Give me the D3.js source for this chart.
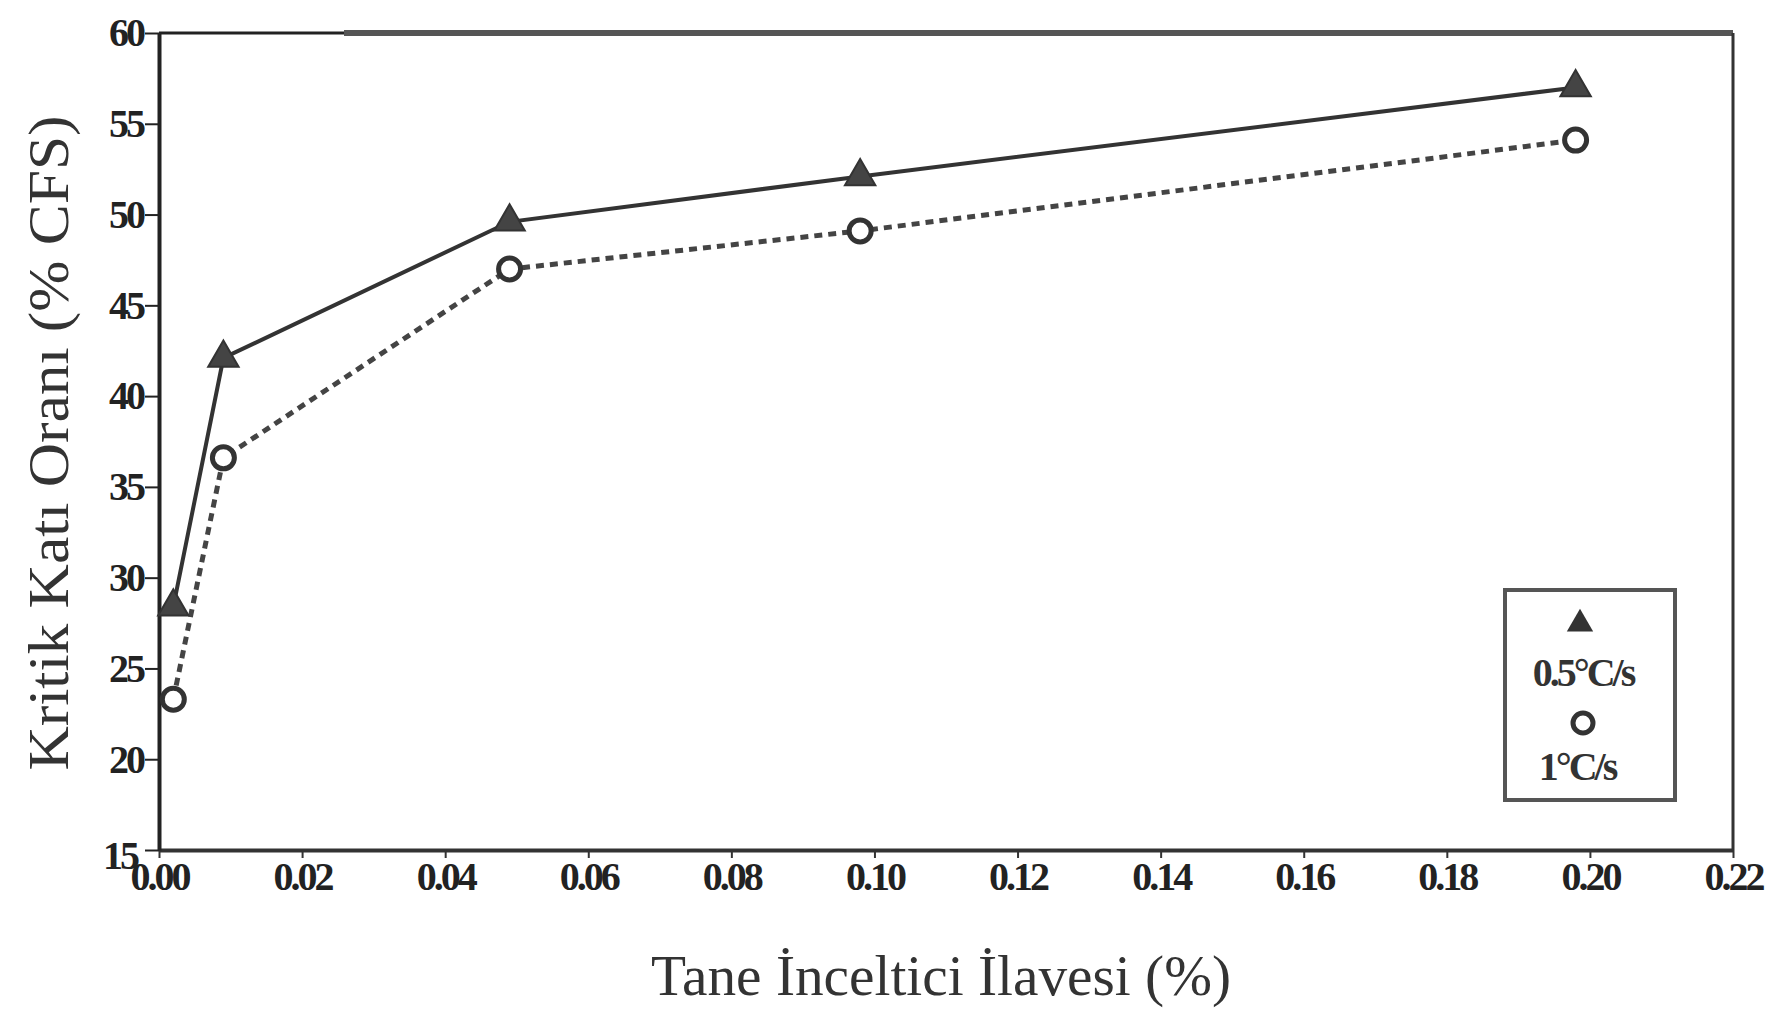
<!DOCTYPE html>
<html>
<head>
<meta charset="utf-8">
<script src="https://cdn.jsdelivr.net/npm/d3@7"></script>
<style>
  body { margin: 0; background: #fff; }
  svg { display: block; }
  .tick text { font-family: "Liberation Serif", serif; font-weight: bold; fill: #222; }
</style>
</head>
<body>
<svg width="1780" height="1016"></svg>
<script>
// tane inceltici ilavesi (%)
var xVals = [0.002, 0.009, 0.049, 0.098, 0.198];
// kritik kati orani (% CFS)
var slowRate = [28.4, 42.1, 49.6, 52.1, 57.0];   // 0.5 C/s
var fastRate = [23.3, 36.6, 47.0, 49.1, 54.1];   // 1 C/s
var xTicks = [0, 0.02, 0.04, 0.06, 0.08, 0.10, 0.12, 0.14, 0.16, 0.18, 0.20, 0.22];
var yTicks = [15, 20, 25, 30, 35, 40, 45, 50, 55, 60];

var svg = d3.select("svg"),
    margin = {top: 33, right: 47, bottom: 166, left: 159},
    width = +svg.attr("width") - margin.left - margin.right,
    height = +svg.attr("height") - margin.top - margin.bottom;

var g = svg.append("g").attr("transform", "translate(" + margin.left + "," + margin.top + ")");

var x = d3.scaleLinear().domain([0, 0.22]).range([0, width]);
var y = d3.scaleLinear().domain([15, 60]).range([height, 0]);

// frame: top + right (scan has them heavier grey)
g.append("line").attr("x1", 0).attr("x2", 185).attr("y1", 0).attr("y2", 0)
    .attr("stroke", "#222").attr("stroke-width", 3);
g.append("line").attr("x1", 185).attr("x2", width).attr("y1", 0).attr("y2", 0)
    .attr("stroke", "#555").attr("stroke-width", 6);
g.append("line").attr("x1", width).attr("x2", width).attr("y1", 0).attr("y2", height)
    .attr("stroke", "#333").attr("stroke-width", 3);

var xAxis = g.append("g")
    .attr("transform", "translate(0," + height + ")")
    .call(d3.axisBottom(x).tickValues(xTicks).tickSize(8).tickSizeOuter(0)
        .tickFormat(d3.format(".2f")));
xAxis.select(".domain").attr("stroke", "#333").attr("stroke-width", 4);
xAxis.selectAll(".tick line").attr("stroke", "#333").attr("stroke-width", 2);
xAxis.selectAll(".tick text").attr("font-size", 40).attr("y", 12)
    .attr("letter-spacing", -3);

var yAxis = g.append("g")
    .call(d3.axisLeft(y).tickValues(yTicks).tickSize(14).tickSizeOuter(0));
yAxis.select(".domain").attr("stroke", "#222").attr("stroke-width", 4);
yAxis.selectAll(".tick line").attr("stroke", "#222").attr("stroke-width", 2);
yAxis.selectAll(".tick text").attr("font-size", 40).attr("x", -16)
    .attr("letter-spacing", -3);
yAxis.selectAll(".tick text").filter(function(d) { return d === 15; })
    .attr("x", -22).attr("dy", "0.45em");

var line = d3.line()
    .x(function(d) { return x(d[0]); })
    .y(function(d) { return y(d[1]); });

var slowPts = xVals.map(function(v, i) { return [v, slowRate[i]]; });
var fastPts = xVals.map(function(v, i) { return [v, fastRate[i]]; });

g.append("path").datum(slowPts)
    .attr("d", line).attr("fill", "none")
    .attr("stroke", "#333").attr("stroke-width", 4);

g.append("path").datum(fastPts)
    .attr("d", line).attr("fill", "none")
    .attr("stroke", "#444").attr("stroke-width", 5)
    .attr("stroke-dasharray", "8,6");

var tri = d3.symbol().type(d3.symbolTriangle).size(400);

g.selectAll(".tri")
    .data(slowPts)
    .enter().append("path")
    .attr("class", "tri")
    .attr("d", tri)
    .attr("transform", function(d) { return "translate(" + x(d[0]) + "," + y(d[1]) + ")"; })
    .attr("fill", "#444").attr("stroke", "#333").attr("stroke-width", 2);

g.selectAll(".circ")
    .data(fastPts)
    .enter().append("circle")
    .attr("class", "circ")
    .attr("cx", function(d) { return x(d[0]); })
    .attr("cy", function(d) { return y(d[1]); })
    .attr("r", 11)
    .attr("fill", "#fff").attr("stroke", "#333").attr("stroke-width", 5);

// legend
var leg = svg.append("g").attr("transform", "translate(1505,590)");
leg.append("rect").attr("width", 170).attr("height", 210)
    .attr("fill", "#fff").attr("stroke", "#555").attr("stroke-width", 4);
leg.append("path").attr("d", d3.symbol().type(d3.symbolTriangle).size(300))
    .attr("transform", "translate(75,34)")
    .attr("fill", "#333");
leg.append("text").attr("x", 78).attr("y", 96)
    .attr("text-anchor", "middle")
    .attr("font-family", "Liberation Serif, serif").attr("font-weight", "bold")
    .attr("font-size", 40).attr("letter-spacing", -3).attr("fill", "#333")
    .text("0.5°C/s");
leg.append("circle").attr("cx", 78).attr("cy", 133).attr("r", 10)
    .attr("fill", "none").attr("stroke", "#333").attr("stroke-width", 5);
leg.append("text").attr("x", 72).attr("y", 190)
    .attr("text-anchor", "middle")
    .attr("font-family", "Liberation Serif, serif").attr("font-weight", "bold")
    .attr("font-size", 40).attr("letter-spacing", -3).attr("fill", "#333")
    .text("1°C/s");

// axis titles
svg.append("text")
    .attr("x", 941).attr("y", 995)
    .attr("text-anchor", "middle")
    .attr("font-family", "Liberation Serif, serif")
    .attr("font-size", 56).attr("fill", "#333")
    .attr("textLength", 580).attr("lengthAdjust", "spacingAndGlyphs")
    .text("Tane İnceltici İlavesi (%)");

svg.append("text")
    .attr("transform", "translate(68,443) rotate(-90)")
    .attr("text-anchor", "middle")
    .attr("font-family", "Liberation Serif, serif")
    .attr("font-size", 56).attr("fill", "#333")
    .attr("textLength", 655).attr("lengthAdjust", "spacingAndGlyphs")
    .text("Kritik Katı Oranı (% CFS)");
</script>
</body>
</html>
